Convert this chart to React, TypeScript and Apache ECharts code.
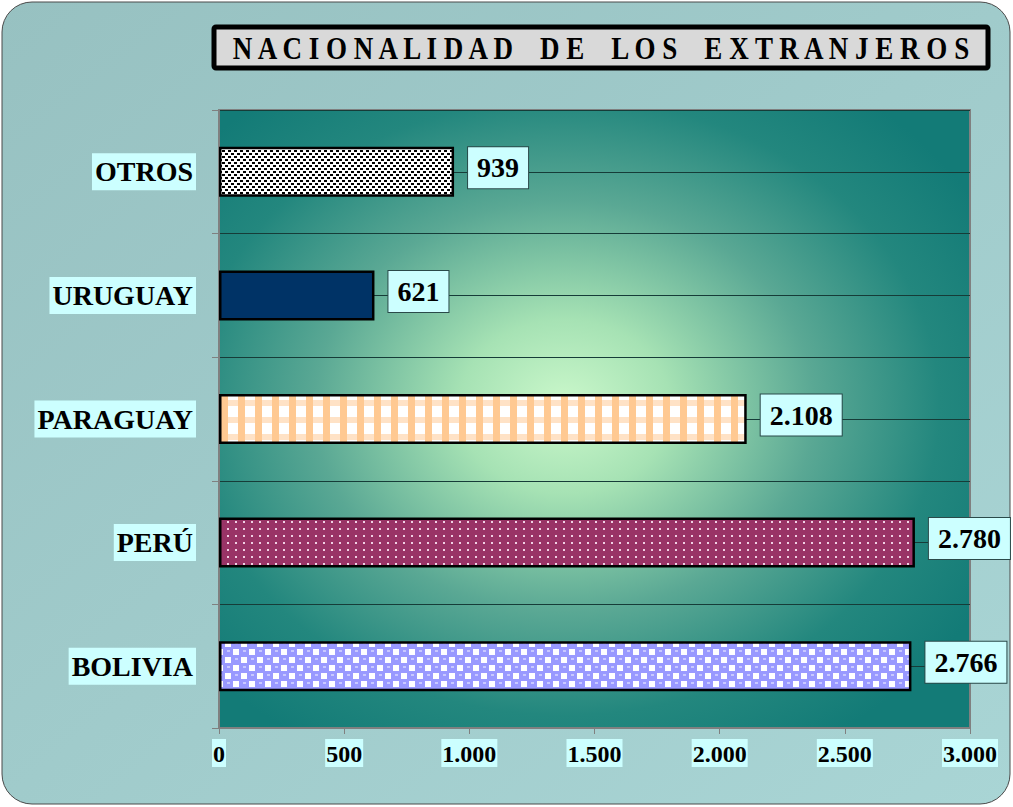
import React, { useEffect, useRef } from "react";
import * as echarts from "echarts";

const titleText = "NACIONALIDAD DE LOS EXTRANJEROS";
const categories = ["BOLIVIA", "PERÚ", "PARAGUAY", "URUGUAY", "OTROS"];
const values = [2766, 2780, 2108, 621, 939];
const valueTicks = [0, 500, 1000, 1500, 2000, 2500, 3000];

const fmt = (v: number) => String(v).replace(/\B(?=(\d{3})+(?!\d))/g, ".");

function makeTile(w: number, h: number, draw: (c: CanvasRenderingContext2D) => void) {
  const cv = document.createElement("canvas");
  cv.width = w;
  cv.height = h;
  const ctx = cv.getContext("2d")!;
  draw(ctx);
  return { image: cv.toDataURL(), repeat: "repeat", imageWidth: w, imageHeight: h } as any;
}

function patterns() {
  const bolivia = makeTile(16, 16, (c) => {
    c.fillStyle = "#9999ff";
    c.fillRect(0, 0, 16, 16);
    c.fillStyle = "#ffffff";
    c.fillRect(1, 1, 6, 6);
    c.fillRect(9, 9, 6, 6);
    c.fillStyle = "#c8c8ff";
    c.fillRect(11, 2, 3, 2);
    c.fillRect(3, 10, 3, 2);
  });
  const peru = makeTile(8, 7, (c) => {
    c.fillStyle = "#993366";
    c.fillRect(0, 0, 8, 7);
    c.fillStyle = "#f0d0e4";
    c.fillRect(3, 3, 2, 2);
  });
  const paraguay = makeTile(17, 17, (c) => {
    c.fillStyle = "#ffffff";
    c.fillRect(0, 0, 17, 17);
    c.fillStyle = "#ffe2c6";
    c.fillRect(0, 9, 17, 6);
    c.fillStyle = "#ffc992";
    c.fillRect(0, 0, 7, 17);
  });
  const otros = makeTile(6, 6, (c) => {
    c.fillStyle = "#ffffff";
    c.fillRect(0, 0, 6, 6);
    c.fillStyle = "#000000";
    c.fillRect(0, 0, 3, 2);
    c.fillRect(3, 3, 3, 2);
  });
  return [bolivia, peru, paraguay, "#003366", otros];
}

export default function App() {
  const ref = useRef<HTMLDivElement>(null);
  useEffect(() => {
    if (!ref.current) return;
    const chart = echarts.init(ref.current, null, { renderer: "svg" });
    const fills = patterns();
    const spaced = titleText
      .split(" ")
      .map((w) => w.split("").join(" "))
      .join("    ");
    chart.setOption({
      animation: false,
      graphic: [
        {
          type: "rect",
          z: -10,
          shape: { x: 2, y: 2, width: 1008, height: 802, r: 30 },
          style: {
            fill: new echarts.graphic.LinearGradient(0, 0, 1, 1, [
              { offset: 0, color: "#97c1c1" },
              { offset: 1, color: "#a9d5d5" },
            ]),
            stroke: "#4a4a4a",
            lineWidth: 1,
          },
        },
        {
          type: "rect",
          z: 10,
          shape: { x: 214, y: 27, width: 774, height: 41, r: 2 },
          style: { fill: "#d9d9d9", stroke: "#000000", lineWidth: 5 },
        },
        {
          type: "text",
          z: 11,
          x: 601,
          y: 48,
          scaleY: 1.25,
          scaleX: 1.04,
          style: {
            text: spaced,
            font: "bold 26px 'Liberation Serif', 'Times New Roman', serif",
            fill: "#000000",
            align: "center",
            verticalAlign: "middle",
          },
        },
      ],
      grid: {
        left: 219,
        right: 43,
        top: 110,
        bottom: 79,
        show: true,
        borderColor: "#808080",
        borderWidth: 2,
        backgroundColor: {
          type: "radial",
          x: 0.46,
          y: 0.48,
          r: 0.64,
          colorStops: [
            { offset: 0, color: "#cbf8cb" },
            { offset: 0.22, color: "#a6e2b4" },
            { offset: 0.52, color: "#5aa894" },
            { offset: 0.78, color: "#23877e" },
            { offset: 1, color: "#137b77" },
          ],
        },
      },
      xAxis: {
        type: "value",
        min: valueTicks[0],
        max: valueTicks[valueTicks.length - 1],
        interval: valueTicks[1] - valueTicks[0],
        splitLine: { show: false },
        axisLine: { show: true, lineStyle: { color: "#808080", width: 2 } },
        axisTick: { show: true, length: 6, lineStyle: { color: "#808080" } },
        axisLabel: {
          formatter: (v: number) => fmt(v),
          fontFamily: "'Liberation Serif', 'Times New Roman', serif",
          fontWeight: "bold",
          fontSize: 24,
          color: "#000000",
          backgroundColor: "#ccffff",
          padding: [3, 1, 1, 1],
          margin: 11,
        },
      },
      yAxis: [
        {
          type: "category",
          data: categories,
          axisLine: { show: true, lineStyle: { color: "#808080", width: 2 } },
          axisTick: { show: true, length: 7, lineStyle: { color: "#808080" } },
          splitLine: { show: false },
          axisLabel: {
            fontFamily: "'Liberation Serif', 'Times New Roman', serif",
            fontWeight: "bold",
            fontSize: 28,
            color: "#000000",
            backgroundColor: "#ccffff",
            padding: [5, 3, 4, 3],
            margin: 23,
          },
        },
        {
          type: "value",
          min: 0,
          max: 10,
          interval: 1,
          position: "right",
          axisLine: { show: false },
          axisTick: { show: false },
          axisLabel: { show: false },
          splitLine: { show: true, lineStyle: { color: "#163c38", width: 1 } },
        },
      ],
      series: [
        {
          type: "bar",
          yAxisIndex: 0,
          barWidth: 50,
          data: values.map((v, i) => ({
            value: v,
            itemStyle: { color: fills[i] },
          })),
          itemStyle: { borderColor: "#000000", borderWidth: 2.5 },
          label: {
            show: true,
            position: "right",
            distance: 14,
            formatter: (p: any) => fmt(p.value),
            fontFamily: "'Liberation Serif', 'Times New Roman', serif",
            fontWeight: "bold",
            fontSize: 28,
            color: "#000000",
            backgroundColor: "#ccffff",
            borderColor: "#2a4a4a",
            borderWidth: 1,
            padding: [8, 9, 5, 9],
            offset: [0, -4],
          },
        },
      ],
    });
    return () => chart.dispose();
  }, []);
  return (
    <div
      ref={ref}
      style={{ position: "absolute", left: 0, top: 0, width: 1013, height: 807 }}
    />
  );
}
